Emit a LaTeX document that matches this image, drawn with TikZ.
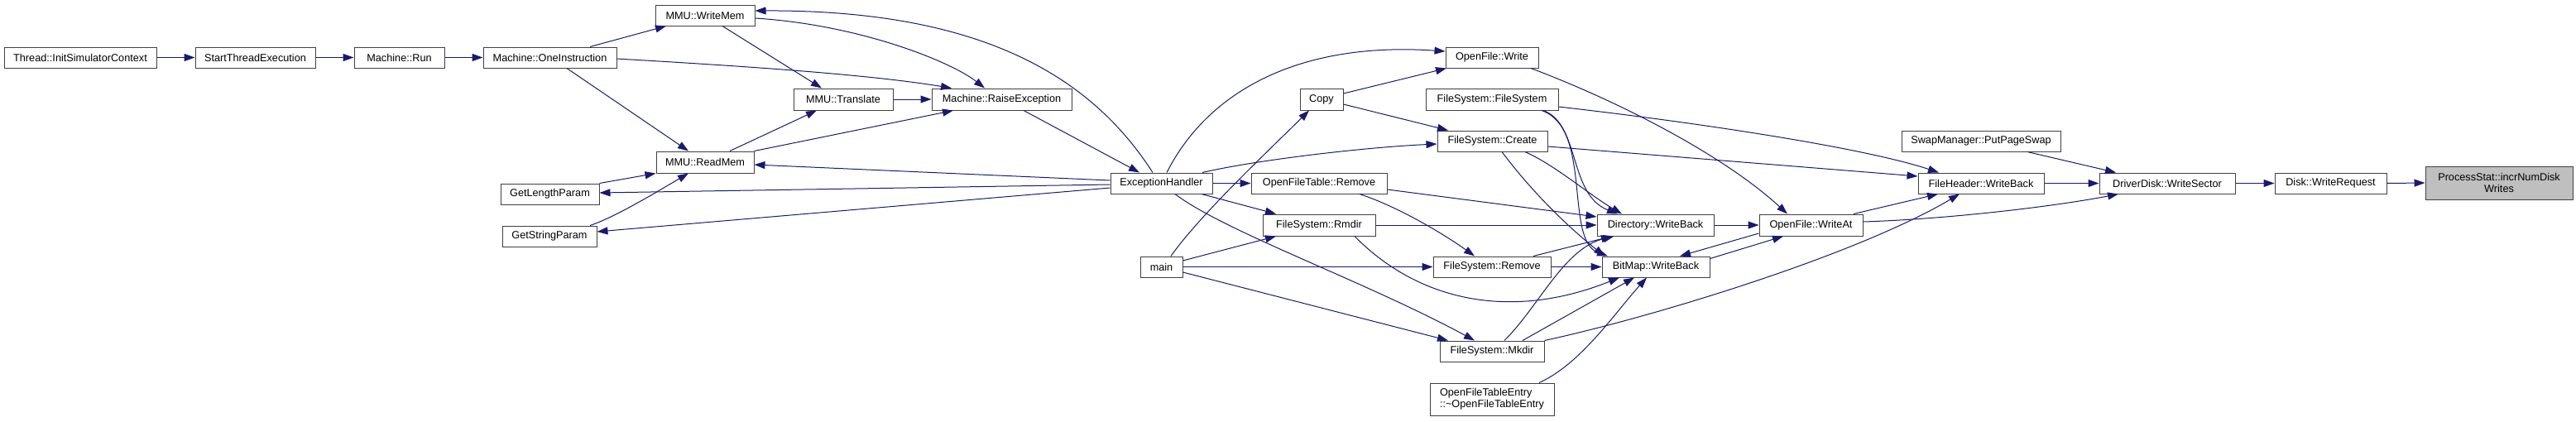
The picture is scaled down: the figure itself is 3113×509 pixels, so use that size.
\documentclass[tikz,border=0pt]{standalone}
\usepackage{fontspec}
\setmainfont{Liberation Sans}
\usetikzlibrary{arrows.meta,calc}
\definecolor{edgec}{HTML}{191970}
\definecolor{boxc}{HTML}{404040}
\definecolor{hilite}{HTML}{BFBFBF}
\begin{document}
\begin{tikzpicture}[x=1pt,y=-1pt,
  fn/.style={draw=boxc,line width=1pt,fill=white,inner sep=0pt,minimum height=25pt,
    font=\fontsize{12.7}{14.5}\selectfont,anchor=center},
  ed/.style={draw=edgec,line width=1pt,-{Triangle[length=13pt,width=9pt]}}]
\useasboundingbox (0,0) rectangle (3113,509);
% nodes
\node[fn,minimum width=184pt] (init) at (97,69.5) {Thread::InitSimulatorContext};
\node[fn,minimum width=145pt] (start) at (308.5,69.5) {StartThreadExecution};
\node[fn,minimum width=109pt] (run) at (482.5,69.5) {Machine::Run};
\node[fn,minimum width=161pt] (onei) at (664.5,69.5) {Machine::OneInstruction};
\node[fn,minimum width=120pt] (wmem) at (852,18.5) {MMU::WriteMem};
\node[fn,minimum width=120pt,minimum height=26pt] (trans) at (1019,120) {MMU::Translate};
\node[fn,minimum width=118pt,minimum height=26pt] (rmem) at (852,196) {MMU::ReadMem};
\node[fn,minimum width=119pt] (getlen) at (664.5,234.5) {GetLengthParam};
\node[fn,minimum width=114pt] (getstr) at (664,285.5) {GetStringParam};
\node[fn,minimum width=169pt,minimum height=26pt] (raise) at (1210.5,120) {Machine::RaiseException};
\node[fn,minimum width=123pt] (exc) at (1403.5,221.5) {ExceptionHandler};
\node[fn,minimum width=51pt] (main) at (1403.5,322.5) {main};
\node[fn,minimum width=164pt] (oftrem) at (1594,221.5) {OpenFileTable::Remove};
\node[fn,minimum width=136pt,minimum height=26pt] (rmdir) at (1594,272) {FileSystem::Rmdir};
\node[fn,minimum width=112pt] (ofwrite) at (1803,69.5) {OpenFile::Write};
\node[fn,minimum width=52pt,minimum height=26pt] (copy) at (1597,120) {Copy};
\node[fn,minimum width=160pt,minimum height=26pt] (fsfs) at (1803,120) {FileSystem::FileSystem};
\node[fn,minimum width=133pt] (create) at (1803.5,170.5) {FileSystem::Create};
\node[fn,minimum width=141pt,minimum height=26pt] (dirwb) at (2000.5,272) {Directory::WriteBack};
\node[fn,minimum width=142pt] (fsrem) at (1803,322.5) {FileSystem::Remove};
\node[fn,minimum width=130pt] (bmwb) at (2001,322.5) {BitMap::WriteBack};
\node[fn,minimum width=126pt] (mkdir) at (1803,424.5) {FileSystem::Mkdir};
\node[fn,minimum width=150pt,minimum height=39pt,align=left,font=\fontsize{12.7}{14}\selectfont] (ofte) at (1803,482.5) {OpenFileTableEntry\\::\textasciitilde OpenFileTableEntry};
\node[fn,minimum width=192pt] (swap) at (2394,170.5) {SwapManager::PutPageSwap};
\node[fn,minimum width=152pt] (fhwb) at (2394,221.5) {FileHeader::WriteBack};
\node[fn,minimum width=125pt,minimum height=26pt] (writeat) at (2188.5,272) {OpenFile::WriteAt};
\node[fn,minimum width=164pt] (driver) at (2619,221.5) {DriverDisk::WriteSector};
\node[fn,minimum width=135pt] (diskwr) at (2816.5,221.5) {Disk::WriteRequest};
\node[fn,minimum width=178pt,minimum height=40pt,fill=hilite,align=center,font=\fontsize{12.7}{14}\selectfont] (proc) at (3020,221) {ProcessStat::incrNumDisk\\Writes};
% edges
\draw[ed] (init.east) -- (start.west);
\draw[ed] (start.east) -- (run.west);
\draw[ed] (run.east) -- (onei.west);
\draw[ed] ($(onei.north)+(48.5,0)$) -- ($(wmem.south)+(-47,0)$);
\draw[ed] ($(onei.south)+(20.5,0)$) -- ($(rmem.north)+(-20,0)$);
\draw[ed] ($(onei.east)+(0,1.5)$) .. controls (900,80) and (1050,90) .. ($(raise.north)+(-60.5,0)$);
\draw[ed] ($(wmem.south)+(21,0)$) -- ($(trans.north)+(-26,0)$);
\draw[ed] ($(rmem.north)+(30,0)$) -- ($(trans.south)+(-32,0)$);
\draw[ed] (rmem.north east) -- ($(raise.south)+(-58.5,0)$);
\draw[ed] ($(wmem.east)+(0,3.5)$) .. controls (1040,30) and (1150,75) .. ($(raise.north)+(-20.5,0)$);
\draw[ed] (trans.east) -- (raise.west);
\draw[ed] ($(raise.south)+(26.5,0)$) -- ($(exc.north)+(-26.5,0)$);
\draw[ed] ($(exc.north)+(-10.5,0)$) .. controls (1320,95) and (1190,12) .. ($(wmem.east)+(0,-5.5)$);
\draw[ed] ($(exc.west)+(0,-3.5)$) -- ($(rmem.east)+(0,3)$);
\draw[ed] ($(exc.west)+(0,1.5)$) -- ($(getlen.east)+(0,-1.5)$);
\draw[ed] ($(exc.west)+(0,5.5)$) -- ($(getstr.east)+(0,-5.5)$);
\draw[ed] (getlen.north east) -- (rmem.south west);
\draw[ed] ($(getstr.north)+(49,0)$) .. controls (745,262) and (800,228) .. ($(rmem.south)+(-20,0)$);
\draw[ed] ($(exc.north)+(6.5,0)$) .. controls (1460,110) and (1570,50) .. ($(ofwrite.west)+(0,-7.5)$);
\draw[ed] (exc.east) -- (oftrem.west);
\draw[ed] ($(exc.south)+(48.5,0)$) -- ($(rmdir.north)+(-52,0)$);
\draw[ed] ($(exc.north)+(49.5,0)$) .. controls (1520,193) and (1650,178) .. ($(create.west)+(0,3.5)$);
\draw[ed] ($(exc.south)+(16.5,0)$) .. controls (1480,280) and (1650,340) .. ($(mkdir.north)+(-21,0)$);
\draw[ed] ($(main.north)+(11.5,0)$) .. controls (1450,260) and (1530,185) .. ($(copy.south)+(-15,0)$);
\draw[ed] ($(main.east)+(0,-7.5)$) -- ($(rmdir.south)+(-52,0)$);
\draw[ed] (main.east) -- (fsrem.west);
\draw[ed] ($(main.east)+(0,6.5)$) -- ($(mkdir.north)+(-53,0)$);
\draw[ed] ($(copy.east)+(0,-7)$) -- ($(ofwrite.south)+(-55,0)$);
\draw[ed] ($(copy.east)+(0,6)$) -- ($(create.north)+(-53.5,0)$);
\draw[ed] ($(oftrem.east)+(0,7.5)$) -- ($(dirwb.west)+(0,-10)$);
\draw[ed] ($(oftrem.south)+(49,0)$) .. controls (1690,250) and (1745,283) .. ($(fsrem.north)+(-21,0)$);
\draw[ed] (rmdir.east) -- (dirwb.west);
\draw[ed] ($(rmdir.south)+(43,0)$) .. controls (1710,360) and (1820,390) .. ($(bmwb.south)+(-44,0)$);
\draw[ed] ($(fsfs.south)+(62,0)$) .. controls (1910,150) and (1895,235) .. ($(dirwb.north)+(-45.5,0)$);
\draw[ed] ($(fsfs.south)+(60,0)$) .. controls (1925,155) and (1890,290) .. ($(bmwb.north)+(-58,0)$);
\draw[ed] ($(fsfs.east)+(0,9)$) .. controls (2050,148) and (2250,178) .. ($(fhwb.north)+(-51,0)$);
\draw[ed] ($(create.south)+(39.5,0)$) .. controls (1880,200) and (1920,235) .. ($(dirwb.north)+(-40.5,0)$);
\draw[ed] ($(create.south)+(11.5,0)$) .. controls (1850,230) and (1890,270) .. ($(bmwb.north)+(-62,0)$);
\draw[ed] ($(create.east)+(0,6.5)$) -- ($(fhwb.west)+(0,-8.5)$);
\draw[ed] ($(ofwrite.south)+(47,0)$) .. controls (1950,120) and (2080,185) .. ($(writeat.north)+(-28.5,0)$);
\draw[ed] ($(fsrem.north)+(50,0)$) -- ($(dirwb.south)+(-52.5,0)$);
\draw[ed] (fsrem.east) -- (bmwb.west);
\draw[ed] ($(mkdir.north)+(15,0)$) .. controls (1860,370) and (1890,300) .. ($(dirwb.south)+(-50,0)$);
\draw[ed] ($(mkdir.north)+(37,0)$) -- ($(bmwb.south)+(-26,0)$);
\draw[ed] (mkdir.north east) .. controls (1990,385) and (2240,310) .. ($(fhwb.south)+(-26,0)$);
\draw[ed] ($(ofte.north)+(57,0)$) .. controls (1910,440) and (1950,380) .. ($(bmwb.south)+(-11,0)$);
\draw[ed] (dirwb.east) -- (writeat.west);
\draw[ed] ($(writeat.west)+(0,10)$) -- ($(bmwb.north)+(29,0)$);
\draw[ed] ($(bmwb.east)+(0,-10)$) -- ($(writeat.south)+(-33.5,0)$);
\draw[ed] ($(writeat.north)+(51.5,0)$) -- ($(fhwb.south)+(-52,0)$);
\draw[ed] ($(writeat.east)+(0,-4)$) .. controls (2350,265) and (2480,250) .. ($(driver.south)+(-59,0)$);
\draw[ed] (fhwb.east) -- (driver.west);
\draw[ed] ($(swap.south)+(56,0)$) -- ($(driver.north)+(-62,0)$);
\draw[ed] (driver.east) -- (diskwr.west);
\draw[ed] (diskwr.east) -- (proc.west);
\end{tikzpicture}
\end{document}
